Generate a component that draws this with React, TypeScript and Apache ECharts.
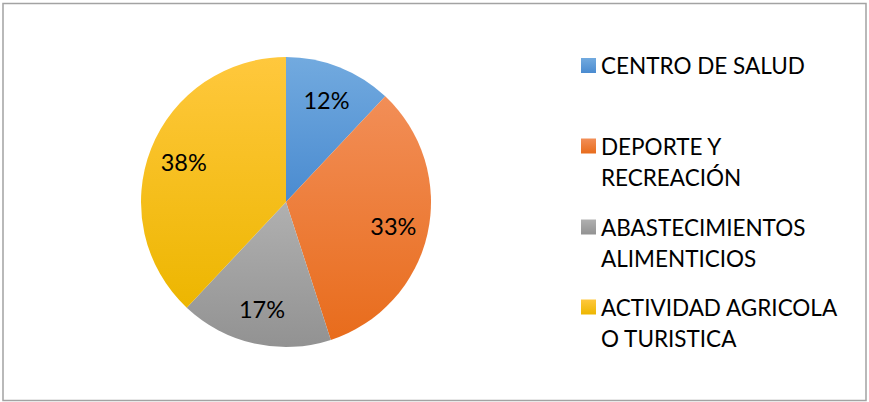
import React, { useEffect, useRef } from "react";
import * as echarts from "echarts";

const categories = ["CENTRO DE SALUD", "DEPORTE Y RECREACIÓN", "ABASTECIMIENTOS ALIMENTICIOS", "ACTIVIDAD AGRICOLA O TURISTICA"];
const legendLines = ["CENTRO DE SALUD", "DEPORTE Y\nRECREACIÓN", "ABASTECIMIENTOS\nALIMENTICIOS", "ACTIVIDAD AGRICOLA\nO TURISTICA"];
const values = [12, 33, 17, 38];
const colorsTop = ["#72AADF", "#F28E57", "#B0B0B0", "#FFC83D"];
const colorsBottom = ["#4A8BD0", "#E86C1C", "#929292", "#EDB600"];
const legendCenters = [65.5, 146, 227, 307];

const FONT = "Lato";
const LH = 31;

export default function App() {
  const ref = useRef<HTMLDivElement>(null);
  useEffect(() => {
    if (!ref.current) return;
    const chart = echarts.init(ref.current, null, { renderer: "svg" });
    const grad = (i: number) =>
      new echarts.graphic.LinearGradient(0, 0, 0, 1, [
        { offset: 0, color: colorsTop[i] },
        { offset: 1, color: colorsBottom[i] },
      ]);
    const data = categories.map((name, i) => ({
      name,
      value: values[i],
      itemStyle: { color: grad(i) },
    }));
    const legends = categories.map((name, i) => {
      const multi = legendLines[i].includes("\n");
      return {
        data: [{ name, itemStyle: { color: grad(i) } }],
        orient: "vertical",
        left: 581,
        top: multi ? legendCenters[i] - 7.5 - LH * 1.5 + 7.5 : legendCenters[i] - LH / 2,
        padding: 0,
        itemWidth: 15,
        itemHeight: 15,
        itemGap: 0,
        icon: "rect",
        selectedMode: false,
        formatter: () => (multi ? "\n" + legendLines[i] : legendLines[i]),
        textStyle: {
          fontFamily: FONT,
          fontSize: 22.5,
          color: "#000",
          lineHeight: LH,
        },
      };
    });
    chart.setOption({
      animation: false,
      backgroundColor: "#fff",
      legend: legends,
      graphic: [
        {
          type: "rect",
          shape: { x: 3, y: 3.5, width: 863, height: 397 },
          style: { fill: "none", stroke: "#A3A3A3", lineWidth: 1.5 },
          silent: true,
        },
      ],
      series: [
        {
          type: "pie",
          center: [286, 202],
          radius: [0, 145],
          startAngle: 90,
          clockwise: true,
          label: { show: false },
          labelLine: { show: false },
          itemStyle: { borderColor: "#fff", borderWidth: 0 },
          data,
        },
        {
          type: "pie",
          center: [286, 202],
          radius: [69, 145],
          startAngle: 90,
          clockwise: true,
          silent: true,
          legendHoverLink: false,
          itemStyle: { color: "transparent" },
          label: {
            show: true,
            position: "inside",
            formatter: "{c}%",
            fontFamily: FONT,
            fontSize: 23.5,
            color: "#000",
          },
          labelLine: { show: false },
          data: categories.map((name, i) => ({ name: name + " ", value: values[i], itemStyle: { color: "transparent" } })),
        },
      ],
    });
    return () => chart.dispose();
  }, []);
  return (
    <div
      ref={ref}
      style={{ position: "fixed", left: 0, top: 0, width: 869, height: 402 }}
    />
  );
}
